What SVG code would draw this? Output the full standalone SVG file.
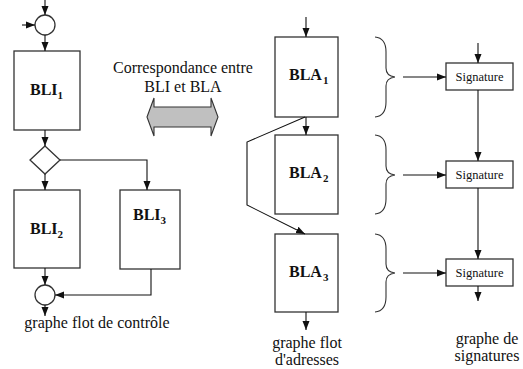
<svg xmlns="http://www.w3.org/2000/svg" width="523" height="369" viewBox="0 0 523 369" font-family="'Liberation Serif', 'Times New Roman', Tinos, serif">
  <style>
    .box { fill: #fff; stroke: #333; stroke-width: 1.3; }
    .ln { fill: none; stroke: #111; stroke-width: 1.1; }
    .arr { marker-end: url(#head); }
    .brace { fill: none; stroke: #333; stroke-width: 1.1; }
    .lbl { font-family: 'Liberation Serif', 'Times New Roman', Tinos, serif; font-weight: bold; font-size: 16px; fill: #111; }
    .sub { font-size: 11px; }
    .txt { font-family: 'Liberation Serif', 'Times New Roman', Tinos, serif; font-size: 16px; fill: #111; text-anchor: middle; }
    .sig { font-family: 'Liberation Serif', 'Times New Roman', Tinos, serif; font-size: 12.5px; fill: #111; text-anchor: middle; }
  </style>
  <defs>
    <marker id="head" markerUnits="userSpaceOnUse" markerWidth="9" markerHeight="9" viewBox="0 0 9 9" refX="9" refY="4.5" orient="auto">
      <path d="M0,1 L9,4.5 L0,8 Z" fill="#111"/>
    </marker>
  </defs>

  <!-- control flow graph -->
  <g id="join-top"><circle cx="45" cy="25" r="10" class="box"/></g>
  <g id="bli1">
    <rect x="14" y="51" width="66" height="79" class="box"/>
    <text x="30" y="95" class="lbl">BLI<tspan class="sub" dy="4">1</tspan></text>
  </g>
  <g id="branch"><polygon points="45,146 60,160 45,174 30,160" class="box"/></g>
  <g id="bli2">
    <rect x="14" y="190" width="66" height="78" class="box"/>
    <text x="30" y="234" class="lbl">BLI<tspan class="sub" dy="4">2</tspan></text>
  </g>
  <g id="bli3">
    <rect x="120" y="190" width="60" height="79" class="box"/>
    <text x="133" y="220" class="lbl">BLI<tspan class="sub" dy="4">3</tspan></text>
  </g>
  <g id="join-bottom"><circle cx="45" cy="295" r="10" class="box"/></g>

  <!-- correspondence arrow -->
  <g id="correspondance">
    <text x="183" y="73" class="txt">Correspondance entre</text>
    <text x="183" y="92" class="txt">BLI et BLA</text>
    <polygon points="147,117 154,98 154,107 211,107 211,98 218,117 211,136 211,127 154,127 154,136" fill="#c0c0c0" stroke="#333" stroke-width="1.1"/>
  </g>

  <!-- address flow graph -->
  <g id="bla1">
    <rect x="275" y="37" width="63" height="80" class="box"/>
    <text x="289" y="80" class="lbl">BLA<tspan class="sub" dx="1" dy="4">1</tspan></text>
  </g>
  <g id="bla2">
    <rect x="275" y="135" width="63" height="79" class="box"/>
    <text x="289" y="178" class="lbl">BLA<tspan class="sub" dx="1" dy="4">2</tspan></text>
  </g>
  <g id="bla3">
    <rect x="275" y="234" width="63" height="78" class="box"/>
    <text x="289" y="277" class="lbl">BLA<tspan class="sub" dx="1" dy="4">3</tspan></text>
  </g>

  <!-- signature graph -->
  <g id="brace1"><path class="brace" d="M375,37 Q386,38 386,52 L386,68 Q386,76 395,77 Q386,78 386,86 L386,102 Q386,116 375,117"/></g>
  <g id="brace2"><path class="brace" d="M375,135 Q386,136 386,150 L386,166 Q386,174 395,175 Q386,176 386,184 L386,199 Q386,213 375,214"/></g>
  <g id="brace3"><path class="brace" d="M375,234 Q386,235 386,249 L386,264 Q386,272 395,273 Q386,274 386,282 L386,297 Q386,311 375,312"/></g>
  <g id="sig1">
    <rect x="446" y="63" width="67" height="27" class="box"/>
    <text x="479.5" y="81" class="sig">Signature</text>
  </g>
  <g id="sig2">
    <rect x="446" y="161" width="67" height="27" class="box"/>
    <text x="479.5" y="179" class="sig">Signature</text>
  </g>
  <g id="sig3">
    <rect x="446" y="259" width="67" height="27" class="box"/>
    <text x="479.5" y="277" class="sig">Signature</text>
  </g>

  <!-- captions -->
  <g id="captions">
    <text x="97" y="328" class="txt">graphe flot de contrôle</text>
    <text x="307" y="348" class="txt">graphe flot</text>
    <text x="307" y="365" class="txt">d'adresses</text>
    <text x="487" y="344" class="txt">graphe de</text>
    <text x="487" y="361" class="txt">signatures</text>
  </g>

  <!-- connectors -->
  <g id="connectors">
    <line x1="45" y1="0" x2="45" y2="15" class="ln arr"/>
    <line x1="22" y1="25" x2="35" y2="25" class="ln arr"/>
    <line x1="45" y1="35" x2="45" y2="51" class="ln arr"/>
    <line x1="45" y1="130" x2="45" y2="146" class="ln arr"/>
    <line x1="45" y1="174" x2="45" y2="190" class="ln arr"/>
    <polyline points="60,160 147,160 147,190" class="ln arr"/>
    <line x1="45" y1="268" x2="45" y2="285" class="ln arr"/>
    <polyline points="151,269 151,295 55,295" class="ln arr"/>
    <line x1="45" y1="305" x2="45" y2="316" class="ln arr"/>

    <line x1="306" y1="17" x2="306" y2="37" class="ln arr"/>
    <line x1="306" y1="117" x2="306" y2="135" class="ln arr"/>
    <polyline points="305,117 247,142 247,205 305,234" class="ln arr"/>
    <line x1="306" y1="312" x2="306" y2="330" class="ln arr"/>

    <line x1="403" y1="77" x2="446" y2="77" class="ln arr"/>
    <line x1="403" y1="175" x2="446" y2="175" class="ln arr"/>
    <line x1="403" y1="273" x2="446" y2="273" class="ln arr"/>
    <line x1="478" y1="43" x2="478" y2="63" class="ln arr"/>
    <line x1="478" y1="90" x2="478" y2="161" class="ln arr"/>
    <line x1="478" y1="188" x2="478" y2="259" class="ln arr"/>
    <line x1="478" y1="286" x2="478" y2="301" class="ln arr"/>
  </g>
</svg>
